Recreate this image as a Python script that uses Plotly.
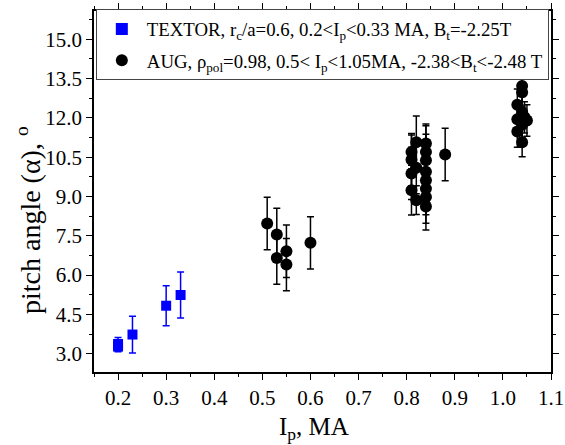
import plotly.graph_objects as go

# TEXTOR data
textor_ip = [0.20, 0.20, 0.23, 0.30, 0.33]
textor_alpha = [3.27, 3.37, 3.73, 4.83, 5.24]
textor_err = [0.2, 0.25, 0.7, 0.76, 0.88]

# AUG data
aug_ip = [0.51, 0.53, 0.53, 0.55, 0.55, 0.60,
          0.81, 0.81, 0.81, 0.81, 0.82, 0.82, 0.82,
          0.84, 0.84, 0.84, 0.84, 0.84, 0.84, 0.84, 0.84, 0.88,
          1.04, 1.04, 1.03, 1.04, 1.03, 1.05, 1.04, 1.03, 1.04, 1.045, 1.04]
aug_alpha = [7.97, 7.55, 6.65, 6.91, 6.40, 7.23,
             10.70, 10.40, 9.88, 9.24, 11.07, 10.10, 8.86,
             11.02, 10.70, 10.38, 9.94, 9.62, 9.30, 8.98, 8.62, 10.60,
             13.22, 12.98, 12.50, 12.22, 11.95, 11.90, 11.74, 11.48, 11.07, 12.02, 11.85]
aug_err = [1.0, 1.0, 1.0, 1.0, 1.0, 1.0,
           0.65, 1.0, 1.0, 0.95, 1.0, 1.0, 0.55,
           0.75, 1.0, 1.0, 1.0, 1.0, 1.0, 1.0, 0.9, 1.0,
           1.0, 0.6, 0.6, 0.6, 0.6, 0.6, 0.6, 0.6, 0.55, 0.6, 0.6]

x_ticks = [0.2, 0.3, 0.4, 0.5, 0.6, 0.7, 0.8, 0.9, 1.0, 1.1]
y_ticks = [3.0, 4.5, 6.0, 7.5, 9.0, 10.5, 12.0, 13.5, 15.0]

FONT = "Times New Roman, Liberation Serif, Times, serif"

fig = go.Figure()
fig.add_trace(go.Scatter(
    x=textor_ip, y=textor_alpha, mode="markers", legendgroup="textor",
    name="TEXTOR, r<sub>c</sub>/a=0.6, 0.2&lt;I<sub>p</sub>&lt;0.33 MA, B<sub>t</sub>=-2.25T",
    marker=dict(symbol="square", size=10, color="#0000ff"),
    error_y=dict(type="data", array=textor_err, color="#0000ff", thickness=1.5, width=3.5),
))
fig.add_trace(go.Scatter(
    x=aug_ip, y=aug_alpha, mode="markers", legendgroup="aug",
    name="AUG, ρ<sub>pol</sub>=0.98, 0.5&lt; I<sub>p</sub>&lt;1.05MA, -2.38&lt;B<sub>t</sub>&lt;-2.48 T",
    marker=dict(symbol="circle", size=12, color="#000000"),
    error_y=dict(type="data", array=aug_err, color="#000000", thickness=1.5, width=3.5),
))

axis_common = dict(
    showline=True, linecolor="black", linewidth=1.5, mirror="ticks",
    ticks="outside", ticklen=6, tickwidth=1.2, tickcolor="black",
    showgrid=False, zeroline=False, automargin=False,
    tickfont=dict(family=FONT, size=21, color="black"),
)

fig.update_xaxes(
    range=[0.15, 1.1], tickvals=x_ticks, ticktext=[f"{v:.1f}" for v in x_ticks],
    minor=dict(ticks="outside", ticklen=3, tickwidth=1, tickcolor="black", dtick=0.05, tick0=0.15, showgrid=False),
    **axis_common,
)
fig.update_yaxes(
    range=[2.3, 16.08], tickvals=y_ticks, ticktext=[f"{v:.1f}" for v in y_ticks],
    minor=dict(ticks="outside", ticklen=3, tickwidth=1, tickcolor="black", dtick=0.75, tick0=2.25, showgrid=False),
    **axis_common,
)

# axis titles as positioned annotations
fig.add_annotation(
    text="I<sub>p</sub>, MA", xref="paper", yref="paper",
    x=(314 - 94) / 457, y=(372 - 428) / 361, xanchor="center", yanchor="middle",
    showarrow=False, font=dict(family=FONT, size=25, color="black"),
)
fig.add_annotation(
    text="pitch angle (α), <sup>o</sup>", xref="paper", yref="paper",
    x=(28 - 94) / 457, y=(372 - 220) / 361, xanchor="center", yanchor="middle",
    textangle=-90, showarrow=False, font=dict(family=FONT, size=28, color="black"),
)

fig.update_layout(
    width=565, height=445,
    margin=dict(l=94, r=14, t=11, b=73, autoexpand=False),
    paper_bgcolor="white", plot_bgcolor="white",
    font=dict(family=FONT, color="black"),
    showlegend=True,
    legend=dict(
        x=0.004, y=1.005, xanchor="left", yanchor="top",
        bgcolor="white", bordercolor="#444444", borderwidth=1,
        font=dict(family=FONT, size=18.8, color="black"),
        itemsizing="constant", tracegroupgap=4, itemwidth=40,
    ),
)

fig.write_html("out.html")
